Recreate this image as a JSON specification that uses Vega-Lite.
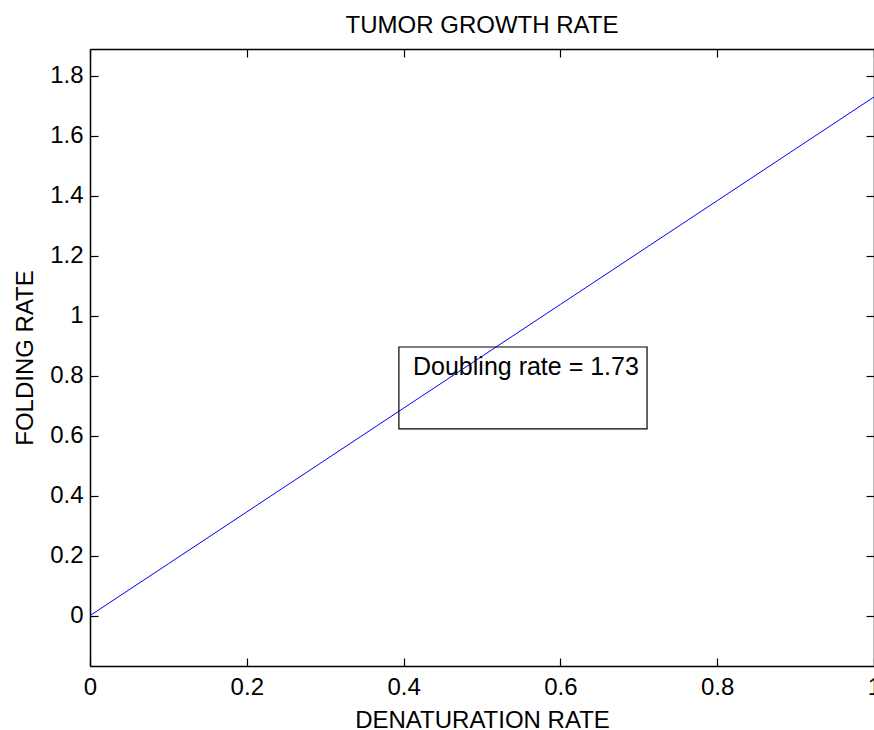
{
  "$schema": "https://vega.github.io/schema/vega-lite/v6.json",
  "width": 784,
  "height": 617,
  "autosize": {"type": "none"},
  "padding": {"left": 90, "top": 49, "right": 0, "bottom": 64},
  "background": "white",
  "config": {
    "font": "Liberation Sans",
    "view": {"stroke": null},
    "axis": {
      "grid": false,
      "domainColor": "black",
      "domainWidth": 1.5,
      "tickColor": "black",
      "tickWidth": 1.2,
      "tickSize": -8,
      "labelFont": "Liberation Sans",
      "labelFontSize": 24,
      "labelColor": "black",
      "titleFont": "Liberation Sans",
      "titleFontSize": 24,
      "titleFontWeight": "normal",
      "titleColor": "black"
    }
  },
  "title": {
    "text": "TUMOR GROWTH RATE",
    "font": "Liberation Sans",
    "fontSize": 24,
    "fontWeight": "normal",
    "color": "black",
    "anchor": "middle",
    "frame": "group",
    "baseline": "alphabetic",
    "offset": 16,
    "dy": 25
  },
  "datasets": {
    "curve": [
      {"x": 0.0, "y": 0.0},
      {"x": 0.1, "y": 0.173},
      {"x": 0.2, "y": 0.346},
      {"x": 0.3, "y": 0.519},
      {"x": 0.4, "y": 0.692},
      {"x": 0.5, "y": 0.865},
      {"x": 0.6, "y": 1.038},
      {"x": 0.7, "y": 1.211},
      {"x": 0.8, "y": 1.384},
      {"x": 0.9, "y": 1.557},
      {"x": 1.0, "y": 1.73}
    ],
    "box": [
      {"x1": 0.394, "x2": 0.7105, "y1": 0.623, "y2": 0.896, "tx": 0.412, "ty": 0.803, "label": "Doubling rate = 1.73"}
    ]
  },
  "layer": [
    {
      "data": {"name": "curve"},
      "mark": {"type": "line", "color": "#0000FF", "strokeWidth": 1},
      "encoding": {
        "x": {
          "field": "x", "type": "quantitative",
          "scale": {"domain": [0, 1], "nice": false, "zero": false},
          "axis": {
            "orient": "bottom",
            "title": "DENATURATION RATE",
            "values": [0, 0.2, 0.4, 0.6, 0.8, 1],
            "format": "~g",
            "labelPadding": 17,
            "labelFlush": false,
            "titleBaseline": "alphabetic",
            "titleY": 61
          }
        },
        "y": {
          "field": "y", "type": "quantitative",
          "scale": {"domain": [-0.168, 1.89], "nice": false, "zero": false},
          "axis": {
            "orient": "left",
            "title": "FOLDING RATE",
            "values": [0, 0.2, 0.4, 0.6, 0.8, 1, 1.2, 1.4, 1.6, 1.8],
            "format": "~g",
            "labelPadding": 15,
            "labelFlush": false,
            "titleBaseline": "alphabetic",
            "titleX": -58
          }
        }
      }
    },
    {
      "data": {"name": "box"},
      "mark": {"type": "rect", "fill": null, "fillOpacity": 0, "stroke": "black", "strokeWidth": 1.2},
      "encoding": {
        "x": {
          "field": "x1", "type": "quantitative",
          "scale": {"domain": [0, 1], "nice": false, "zero": false},
          "axis": {"orient": "top", "title": null, "labels": false, "values": [0, 0.2, 0.4, 0.6, 0.8, 1]}
        },
        "x2": {"field": "x2"},
        "y": {
          "field": "y1", "type": "quantitative",
          "scale": {"domain": [-0.168, 1.89], "nice": false, "zero": false},
          "axis": {"orient": "right", "title": null, "labels": false, "values": [0, 0.2, 0.4, 0.6, 0.8, 1, 1.2, 1.4, 1.6, 1.8]}
        },
        "y2": {"field": "y2"}
      }
    },
    {
      "data": {"name": "box"},
      "mark": {"type": "text", "align": "left", "baseline": "alphabetic", "fontSize": 25, "font": "Liberation Sans", "color": "black"},
      "encoding": {
        "x": {"field": "tx", "type": "quantitative", "scale": {"domain": [0, 1], "nice": false, "zero": false}, "axis": null},
        "y": {"field": "ty", "type": "quantitative", "scale": {"domain": [-0.168, 1.89], "nice": false, "zero": false}, "axis": null},
        "text": {"field": "label"}
      }
    }
  ],
  "resolve": {"scale": {"x": "independent", "y": "independent"}}
}
